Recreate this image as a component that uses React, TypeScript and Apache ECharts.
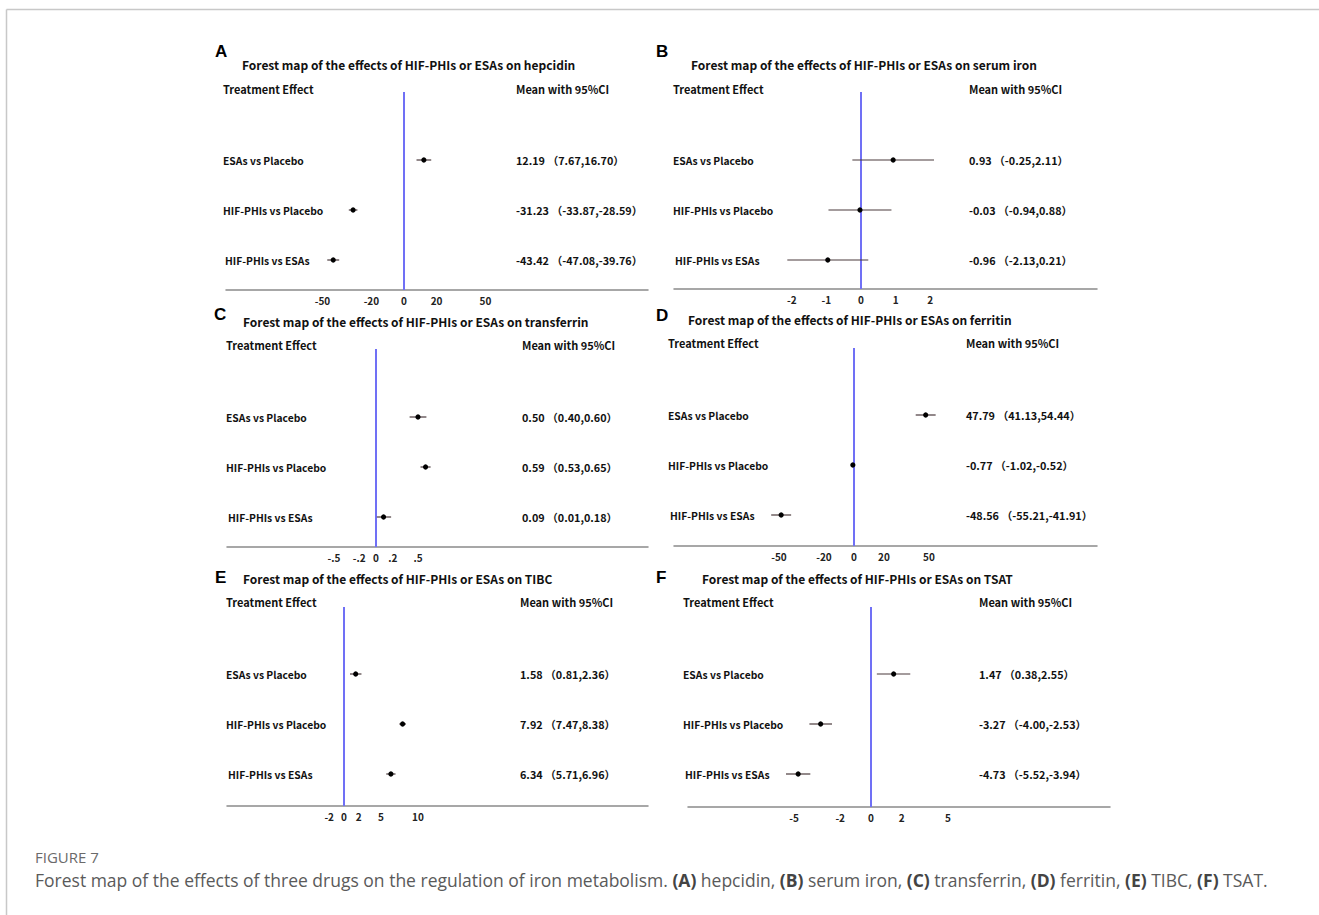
import React, { useEffect, useRef } from "react";
import * as echarts from "echarts";

// ---------- data ----------
const rowLabels = ["ESAs vs Placebo", "HIF-PHIs vs Placebo", "HIF-PHIs vs ESAs"];
const panelLetters = ["A", "B", "C", "D", "E", "F"];
const panelTitles = [
  "Forest map of the effects of HIF-PHIs or ESAs on hepcidin",
  "Forest map of the effects of HIF-PHIs or ESAs on serum iron",
  "Forest map of the effects of HIF-PHIs or ESAs on transferrin",
  "Forest map of the effects of HIF-PHIs or ESAs on ferritin",
  "Forest map of the effects of HIF-PHIs or ESAs on TIBC",
  "Forest map of the effects of HIF-PHIs or ESAs on TSAT",
];

const hepcidinMean = [12.19, -31.23, -43.42];
const hepcidinLow = [7.67, -33.87, -47.08];
const hepcidinHigh = [16.7, -28.59, -39.76];

const serumIronMean = [0.93, -0.03, -0.96];
const serumIronLow = [-0.25, -0.94, -2.13];
const serumIronHigh = [2.11, 0.88, 0.21];

const transferrinMean = [0.5, 0.59, 0.09];
const transferrinLow = [0.4, 0.53, 0.01];
const transferrinHigh = [0.6, 0.65, 0.18];

const ferritinMean = [47.79, -0.77, -48.56];
const ferritinLow = [41.13, -1.02, -55.21];
const ferritinHigh = [54.44, -0.52, -41.91];

const tibcMean = [1.58, 7.92, 6.34];
const tibcLow = [0.81, 7.47, 5.71];
const tibcHigh = [2.36, 8.38, 6.96];

const tsatMean = [1.47, -3.27, -4.73];
const tsatLow = [0.38, -4.0, -5.52];
const tsatHigh = [2.55, -2.53, -3.94];

const hepcidinTicks = [-50, -20, 0, 20, 50];
const hepcidinTickLabels = ["-50", "-20", "0", "20", "50"];
const serumIronTicks = [-2, -1, 0, 1, 2];
const serumIronTickLabels = ["-2", "-1", "0", "1", "2"];
const transferrinTicks = [-0.5, -0.2, 0, 0.2, 0.5];
const transferrinTickLabels = ["-.5", "-.2", "0", ".2", ".5"];
const ferritinTicks = [-50, -20, 0, 20, 50];
const ferritinTickLabels = ["-50", "-20", "0", "20", "50"];
const tibcTicks = [-2, 0, 2, 5, 10];
const tibcTickLabels = ["-2", "0", "2", "5", "10"];
const tsatTicks = [-5, -2, 0, 2, 5];
const tsatTickLabels = ["-5", "-2", "0", "2", "5"];

const headerLeft = "Treatment Effect";
const headerRight = "Mean with 95%CI";
const figureLabel = "FIGURE 7";

// ---------- assembly ----------
const means = [hepcidinMean, serumIronMean, transferrinMean, ferritinMean, tibcMean, tsatMean];
const lows = [hepcidinLow, serumIronLow, transferrinLow, ferritinLow, tibcLow, tsatLow];
const highs = [hepcidinHigh, serumIronHigh, transferrinHigh, ferritinHigh, tibcHigh, tsatHigh];
const ticks = [hepcidinTicks, serumIronTicks, transferrinTicks, ferritinTicks, tibcTicks, tsatTicks];
const tickLabels = [
  hepcidinTickLabels,
  serumIronTickLabels,
  transferrinTickLabels,
  ferritinTickLabels,
  tibcTickLabels,
  tsatTickLabels,
];

// ---------- layout (pixels) ----------
type Layout = {
  axisL: number; axisR: number; zeroX: number; k: number;
  lineTop: number; axisY: number; row0: number;
  letterX: number; letterY: number; titleX: number; titleY: number;
  headerY: number; labelX: number; valueX: number;
};
const layouts: Layout[] = [
  { axisL: 226, axisR: 648, zeroX: 404, k: 1.63, lineTop: 92, axisY: 290, row0: 160,
    letterX: 215, letterY: 51, titleX: 242, titleY: 64, headerY: 89, labelX: 223, valueX: 516 },
  { axisL: 674, axisR: 1097, zeroX: 861, k: 34.6, lineTop: 92, axisY: 289, row0: 160,
    letterX: 656, letterY: 51, titleX: 691, titleY: 64, headerY: 89, labelX: 673, valueX: 969 },
  { axisL: 227, axisR: 648, zeroX: 376, k: 84, lineTop: 349, axisY: 547, row0: 417,
    letterX: 214, letterY: 314, titleX: 243, titleY: 321, headerY: 345, labelX: 226, valueX: 522 },
  { axisL: 674, axisR: 1097, zeroX: 854, k: 1.5, lineTop: 348, axisY: 546, row0: 415,
    letterX: 656, letterY: 315, titleX: 688, titleY: 319, headerY: 343, labelX: 668, valueX: 966 },
  { axisL: 227, axisR: 648, zeroX: 344, k: 7.4, lineTop: 607, axisY: 806, row0: 674,
    letterX: 215, letterY: 577, titleX: 243, titleY: 578, headerY: 602, labelX: 226, valueX: 520 },
  { axisL: 688, axisR: 1110, zeroX: 871, k: 15.4, lineTop: 607, axisY: 807, row0: 674,
    letterX: 656, letterY: 577, titleX: 702, titleY: 578, headerY: 602, labelX: 683, valueX: 979 },
];
const ROW_GAP = 50;

const FONT = "'Noto Sans CJK SC', 'Noto Sans', sans-serif";
const fmt = (v: number) => v.toFixed(2);

export default function App() {
  const ref = useRef<HTMLDivElement>(null);

  useEffect(() => {
    if (!ref.current) return;
    const chart = echarts.init(ref.current, undefined, { renderer: "svg" });

    const grids: any[] = [];
    const xAxes: any[] = [];
    const yAxes: any[] = [];
    const series: any[] = [];
    const graphics: any[] = [];

    layouts.forEach((p, i) => {
      const yMin = -(p.row0 - p.lineTop) / ROW_GAP;
      const yMax = (rowLabels.length - 1) + (p.axisY - (p.row0 + ROW_GAP * (rowLabels.length - 1))) / ROW_GAP;
      grids.push({ left: p.axisL, top: p.lineTop, width: p.axisR - p.axisL, height: p.axisY - p.lineTop });
      xAxes.push({
        type: "value",
        gridIndex: i,
        min: (p.axisL - p.zeroX) / p.k,
        max: (p.axisR - p.zeroX) / p.k,
        splitLine: { show: false },
        axisLine: { show: true, onZero: false, lineStyle: { color: "#8a8a8a", width: 1.5 } },
        axisTick: { show: false },
        axisLabel: {
          customValues: ticks[i],
          formatter: (v: number) => {
            const idx = ticks[i].findIndex((t) => Math.abs(t - v) < 1e-9);
            return idx >= 0 ? tickLabels[i][idx] : "";
          },
          margin: 5,
          fontSize: 10,
          fontWeight: "bold",
          color: "#222",
          fontFamily: FONT,
        },
      });
      yAxes.push({ type: "value", gridIndex: i, inverse: true, min: yMin, max: yMax, show: false });

      series.push({
        type: "line",
        xAxisIndex: i,
        yAxisIndex: i,
        data: [[0, yMin], [0, yMax]],
        symbol: "none",
        silent: true,
        lineStyle: { color: "#7070f5", width: 2 },
        z: 2,
      });
      series.push({
        type: "custom",
        xAxisIndex: i,
        yAxisIndex: i,
        z: 3,
        encode: { x: [1, 2, 3], y: 0 },
        data: rowLabels.map((_, r) => [r, means[i][r], lows[i][r], highs[i][r]]),
        renderItem: (params: any, api: any) => {
          const row = api.value(0);
          const pm = api.coord([api.value(1), row]);
          const p1 = api.coord([api.value(2), row]);
          const p2 = api.coord([api.value(3), row]);
          return {
            type: "group",
            children: [
              {
                type: "line",
                shape: { x1: p1[0], y1: p1[1], x2: p2[0], y2: p2[1] },
                style: { stroke: "#4a3a3c", lineWidth: 1.2 },
              },
              { type: "circle", shape: { cx: pm[0], cy: pm[1], r: 2.6 }, style: { fill: "#000" } },
            ],
          };
        },
      });

      graphics.push({
        type: "text", x: p.letterX, y: p.letterY,
        style: { text: panelLetters[i], font: "bold 17px 'Liberation Sans', Arial, sans-serif", fill: "#000", verticalAlign: "middle" },
      });
      graphics.push({
        type: "text", x: p.titleX, y: p.titleY,
        style: { text: panelTitles[i], font: `bold 12px ${FONT}`, fill: "#111", verticalAlign: "middle" },
      });
      graphics.push({
        type: "text", x: p.labelX, y: p.headerY,
        style: { text: headerLeft, font: `bold 11px ${FONT}`, fill: "#111", verticalAlign: "middle" },
      });
      graphics.push({
        type: "text", x: p.valueX, y: p.headerY,
        style: { text: headerRight, font: `bold 11px ${FONT}`, fill: "#111", verticalAlign: "middle" },
      });
      rowLabels.forEach((lab, r) => {
        const y = p.row0 + r * ROW_GAP;
        graphics.push({
          type: "text", x: p.labelX + (r === 2 ? 2 : 0), y,
          style: { text: lab, font: `bold 10.3px ${FONT}`, fill: "#111", verticalAlign: "middle" },
        });
        graphics.push({
          type: "text", x: p.valueX, y,
          style: {
            text: `${fmt(means[i][r])} （${fmt(lows[i][r])},${fmt(highs[i][r])}）`,
            font: `bold 10.8px ${FONT}`, fill: "#111", verticalAlign: "middle",
          },
        });
      });
    });

    // frame
    graphics.push({ type: "line", shape: { x1: 6.5, y1: 9.5, x2: 1319, y2: 9.5 }, style: { stroke: "#c8c8c8", lineWidth: 1.5 } });
    graphics.push({ type: "line", shape: { x1: 6.5, y1: 9.5, x2: 6.5, y2: 915 }, style: { stroke: "#c8c8c8", lineWidth: 1.5 } });

    // caption
    graphics.push({
      type: "text", x: 35, y: 857,
      style: { text: figureLabel, font: "15px 'Open Sans', sans-serif", fill: "#6a6a6a", verticalAlign: "middle" },
    });
    graphics.push({
      type: "text", x: 35, y: 880,
      style: {
        text:
          "Forest map of the effects of three drugs on the regulation of iron metabolism. {b|(A)} hepcidin, {b|(B)} serum iron, {b|(C)} transferrin, {b|(D)} ferritin, {b|(E)} TIBC, {b|(F)} TSAT.",
        font: "17.5px 'Open Sans', sans-serif",
        fill: "#5a5a5a",
        verticalAlign: "middle",
        rich: { b: { font: "bold 17.5px 'Open Sans', sans-serif", fill: "#444" } },
      },
    });

    chart.setOption({
      animation: false,
      backgroundColor: "#fff",
      grid: grids,
      xAxis: xAxes,
      yAxis: yAxes,
      series,
      graphic: { elements: graphics },
    });

    return () => chart.dispose();
  }, []);

  return <div ref={ref} style={{ position: "fixed", left: 0, top: 0, width: 1319, height: 915 }} />;
}
